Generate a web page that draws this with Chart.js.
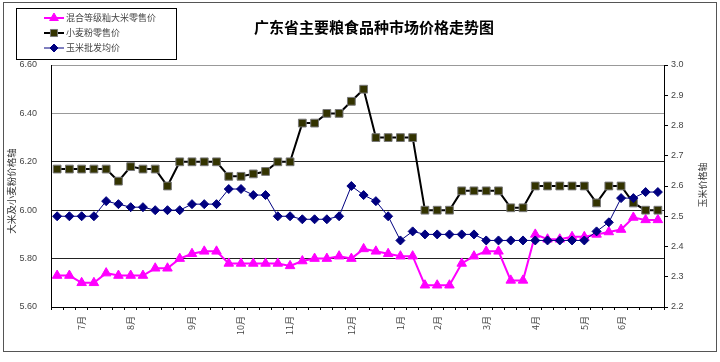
<!DOCTYPE html>
<html>
<head>
<meta charset="utf-8">
<script src="https://cdn.jsdelivr.net/npm/chart.js@4.4.1/dist/chart.umd.min.js"></script>
<style>
    html, body { margin: 0; padding: 0; background: #fff; }
    #wrap { position: relative; width: 720px; height: 362px; }
</style>
</head>
<body>
<div id="wrap"><canvas id="priceChart" width="720" height="362"></canvas></div>
<script>
// Weekly categories, only the first week of each month carries a label
const categories = [
    '', '', '7月', '', '', '', '8月', '', '', '', '',
    '9月', '', '', '', '10月', '', '', '', '11月', '', '', '', '',
    '12月', '', '', '', '1月', '', '', '2月', '', '', '', '3月',
    '', '', '', '4月', '', '', '', '5月', '', '', '6月', '', '', ''
];

// 混合等级籼大米零售价 (left axis)
const riceValues = [
    5.73, 5.73, 5.70, 5.70, 5.74, 5.73, 5.73, 5.73, 5.76, 5.76,
    5.80, 5.82, 5.83, 5.83, 5.78, 5.78, 5.78, 5.78, 5.78, 5.77,
    5.79, 5.80, 5.80, 5.81, 5.80, 5.84, 5.83, 5.82, 5.81, 5.81,
    5.69, 5.69, 5.69, 5.78, 5.81, 5.83, 5.83, 5.71, 5.71, 5.90,
    5.88, 5.88, 5.89, 5.89, 5.90, 5.91, 5.92, 5.97, 5.96, 5.96
];

// 小麦粉零售价 (left axis)
const flourValues = [
    6.17, 6.17, 6.17, 6.17, 6.17, 6.12, 6.18, 6.17, 6.17, 6.10,
    6.20, 6.20, 6.20, 6.20, 6.14, 6.14, 6.15, 6.16, 6.20, 6.20,
    6.36, 6.36, 6.40, 6.40, 6.45, 6.50, 6.30, 6.30, 6.30, 6.30,
    6.00, 6.00, 6.00, 6.08, 6.08, 6.08, 6.08, 6.01, 6.01, 6.10,
    6.10, 6.10, 6.10, 6.10, 6.03, 6.10, 6.10, 6.03, 6.00, 6.00
];

// 玉米批发均价 (right axis)
const cornValues = [
    2.50, 2.50, 2.50, 2.50, 2.55, 2.54, 2.53, 2.53, 2.52, 2.52,
    2.52, 2.54, 2.54, 2.54, 2.59, 2.59, 2.57, 2.57, 2.50, 2.50,
    2.49, 2.49, 2.49, 2.50, 2.60, 2.57, 2.55, 2.50, 2.42, 2.45,
    2.44, 2.44, 2.44, 2.44, 2.44, 2.42, 2.42, 2.42, 2.42, 2.42,
    2.42, 2.42, 2.42, 2.42, 2.45, 2.48, 2.56, 2.56, 2.58, 2.58
];

const seriesNames = ['混合等级籼大米零售价', '小麦粉零售价', '玉米批发均价'];
const chartTitle = '广东省主要粮食品种市场价格走势图';
const leftAxisTitle = '大米及小麦粉价格轴';
const rightAxisTitle = '玉米价格轴';

Chart.defaults.font.family = '"Liberation Sans", sans-serif';
Chart.defaults.color = '#444';

const cjkFont = '"Noto Sans CJK SC", sans-serif';

// Draw frame, title, legend box and axis titles
const framePlugin = {
    id: 'frame',
    beforeDraw(chart) {
        const c = chart.ctx;
        c.save();
        c.fillStyle = '#fff';
        c.fillRect(0, 0, chart.width, chart.height);
        c.restore();
    },
    afterDraw(chart) {
        const c = chart.ctx;
        c.save();

        // outer border
        c.strokeStyle = '#555';
        c.lineWidth = 1;
        c.strokeRect(3.5, 2.5, 713, 349);

        // title
        c.fillStyle = '#000';
        c.font = 'bold 15px ' + cjkFont;
        c.textAlign = 'center';
        c.textBaseline = 'middle';
        c.fillText(chartTitle, 374, 27);

        // legend
        c.strokeStyle = '#000';
        c.strokeRect(16.5, 8.5, 160, 51);
        const rows = [
            { y: 18, color: '#FF00FF', width: 2, style: 'triangle', r: 5, fill: '#FF00FF', border: '#FF00FF' },
            { y: 33, color: '#000', width: 2, style: 'rect', r: 5, fill: '#333300', border: '#777' },
            { y: 48, color: '#000080', width: 1, style: 'rectRot', r: 4, fill: '#000080', border: '#000080' }
        ];
        rows.forEach((row, i) => {
            c.strokeStyle = row.color;
            c.lineWidth = row.width;
            c.beginPath();
            c.moveTo(44, row.y);
            c.lineTo(64, row.y);
            c.stroke();
            c.fillStyle = row.fill;
            c.strokeStyle = row.border;
            c.lineWidth = 1;
            Chart.helpers.drawPoint(c, { pointStyle: row.style, radius: row.r, borderWidth: 1 }, 54, row.y);
            c.fillStyle = '#444';
            c.font = '9px ' + cjkFont;
            c.textAlign = 'left';
            c.textBaseline = 'middle';
            c.fillText(seriesNames[i], 66, row.y);
        });

        // axis titles
        c.fillStyle = '#333';
        c.font = '9.5px ' + cjkFont;
        c.textAlign = 'center';
        c.translate(11, 191);
        c.rotate(-Math.PI / 2);
        c.fillText(leftAxisTitle, 0, 0);
        c.rotate(Math.PI / 2);
        c.translate(-11, -191);
        c.font = '9px ' + cjkFont;
        c.translate(703, 185);
        c.rotate(-Math.PI / 2);
        c.fillText(rightAxisTitle, 0, 0);

        c.restore();
    }
};

const ctx = document.getElementById('priceChart').getContext('2d');

const chart = new Chart(ctx, {
    type: 'line',
    data: {
        labels: categories,
        datasets: [
            {
                label: seriesNames[0],
                data: riceValues,
                yAxisID: 'y',
                borderColor: '#FF00FF',
                borderWidth: 2,
                pointStyle: 'triangle',
                pointRadius: 5.5,
                pointBackgroundColor: '#FF00FF',
                pointBorderColor: '#FF00FF',
                pointBorderWidth: 1,
                tension: 0,
                order: 2
            },
            {
                label: seriesNames[1],
                data: flourValues,
                yAxisID: 'y',
                borderColor: '#000',
                borderWidth: 2,
                pointStyle: 'rect',
                pointRadius: 5.5,
                pointBackgroundColor: '#333300',
                pointBorderColor: '#777',
                pointBorderWidth: 1,
                tension: 0,
                order: 1
            },
            {
                label: seriesNames[2],
                data: cornValues,
                yAxisID: 'y1',
                borderColor: '#000080',
                borderWidth: 1,
                pointStyle: 'rectRot',
                pointRadius: 4.5,
                pointBackgroundColor: '#000080',
                pointBorderColor: '#000080',
                pointBorderWidth: 1,
                tension: 0,
                order: 0
            }
        ]
    },
    options: {
        responsive: false,
        animation: false,
        layout: { padding: { top: 65, left: 0, right: 0, bottom: 0 } },
        plugins: {
            legend: { display: false },
            title: { display: false },
            tooltip: { enabled: false }
        },
        scales: {
            x: {
                offset: true,
                grid: {
                    offset: true,
                    drawOnChartArea: false,
                    tickLength: 3,
                    color: '#000'
                },
                border: { color: '#000', width: 1 },
                ticks: {
                    autoSkip: false,
                    minRotation: 90,
                    maxRotation: 90,
                    padding: 6,
                    font: { size: 9, family: cjkFont },
                    color: '#444'
                },
                afterFit: (scale) => { scale.height = 55; }
            },
            y: {
                position: 'left',
                min: 5.6,
                max: 6.6,
                ticks: {
                    stepSize: 0.2,
                    padding: 14,
                    font: { size: 9 },
                    callback: (value) => value.toFixed(2)
                },
                grid: {
                    drawTicks: false,
                    color: (c) => (c.tick && c.tick.value > 6.3) ? '#999' : '#222'
                },
                border: { color: '#000', width: 1 },
                afterFit: (scale) => { scale.width = 51; }
            },
            y1: {
                position: 'right',
                min: 2.2,
                max: 3,
                ticks: {
                    stepSize: 0.1,
                    padding: 3,
                    font: { size: 9 }
                },
                grid: {
                    drawOnChartArea: false,
                    tickLength: 4,
                    color: '#000'
                },
                border: { color: '#000', width: 1 },
                afterFit: (scale) => { scale.width = 56; }
            }
        }
    },
    plugins: [framePlugin]
});
</script>
</body>
</html>
